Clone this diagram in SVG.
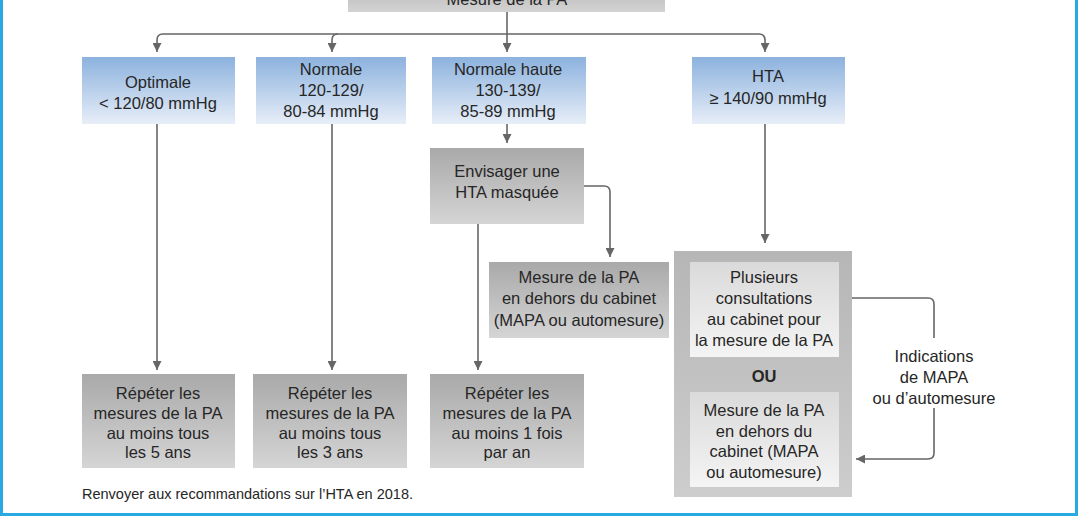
<svg xmlns="http://www.w3.org/2000/svg" width="1078" height="516" viewBox="0 0 1078 516">
<defs>
<linearGradient id="gBlue" x1="0" y1="0" x2="0" y2="1"><stop offset="0" stop-color="#8cb2de"/><stop offset="1" stop-color="#e7eef8"/></linearGradient>
<linearGradient id="gGray" x1="0" y1="0" x2="0" y2="1"><stop offset="0" stop-color="#a9a9a9"/><stop offset="1" stop-color="#d5d5d5"/></linearGradient>
<linearGradient id="gTop" x1="0" y1="0" x2="0" y2="1"><stop offset="0" stop-color="#bdbdbd"/><stop offset="1" stop-color="#d3d3d3"/></linearGradient>
<linearGradient id="gOuter" x1="0" y1="0" x2="0" y2="1"><stop offset="0" stop-color="#b6b6b6"/><stop offset="1" stop-color="#cdcdcd"/></linearGradient>
<linearGradient id="gInner" x1="0" y1="0" x2="0" y2="1"><stop offset="0" stop-color="#dadada"/><stop offset="1" stop-color="#f4f4f4"/></linearGradient>
<marker id="arr" markerUnits="userSpaceOnUse" markerWidth="9" markerHeight="9" refX="8" refY="4" orient="auto" viewBox="0 0 8 8"><path d="M0,0 L8,4 L0,8 z" fill="#666"/></marker>
</defs>
<style>
text{font-family:"Liberation Sans",Arial,sans-serif;font-size:16.5px;fill:#262626;text-anchor:middle}
.foot{font-size:14.5px;text-anchor:start}
.b{font-weight:bold}
.c{fill:none;stroke:#666;stroke-width:1.6}
.ca{fill:none;stroke:#666;stroke-width:1.6;marker-end:url(#arr)}
</style>
<rect x="1.5" y="-10" width="1075" height="524.5" fill="#fff" stroke="#29a9e1" stroke-width="3"/>

<g id="connectors">
<path class="c" d="M507,12 V34"/>
<path class="ca" d="M507,34 H163 Q157,34 157,40 V52"/>
<path class="ca" d="M338,34 Q332,34 332,40 V52"/>
<path class="ca" d="M507,34 V52"/>
<path class="ca" d="M507,34 H759 Q765,34 765,40 V52"/>
<path class="ca" d="M507,124 V143"/>
<path class="ca" d="M584,186 H604 Q610,186 610,192 V257"/>
<path class="ca" d="M765,124 V243"/>
<path class="ca" d="M157,124 V370"/>
<path class="ca" d="M332,124 V370"/>
<path class="ca" d="M478,224 V370"/>
<path class="c" d="M838,298 H928 Q934,298 934,304 V338"/>
<path class="ca" d="M934,408 V453 Q934,459 928,459 H856"/>
</g>

<g id="n-top"><rect x="348" y="-10" width="317" height="22" fill="url(#gTop)"/><text x="507" y="5">Mesure de la PA</text></g>

<g id="n-optimale"><rect x="82" y="57" width="153" height="67" fill="url(#gBlue)"/><text x="158" y="88">Optimale</text><text x="158" y="109">&lt; 120/80 mmHg</text></g>
<g id="n-normale"><rect x="256" y="57" width="150" height="67" fill="url(#gBlue)"/><text x="331" y="75">Normale</text><text x="331" y="96">120-129/</text><text x="331" y="117">80-84 mmHg</text></g>
<g id="n-normalehaute"><rect x="432" y="57" width="154" height="67" fill="url(#gBlue)"/><text x="508" y="75">Normale haute</text><text x="508" y="96">130-139/</text><text x="508" y="117">85-89 mmHg</text></g>
<g id="n-hta"><rect x="692" y="57" width="153" height="67" fill="url(#gBlue)"/><text x="768" y="82">HTA</text><text x="768" y="104">≥ 140/90 mmHg</text></g>

<g id="n-envisager"><rect x="430" y="148" width="154" height="76" fill="url(#gGray)"/><text x="507" y="177">Envisager une</text><text x="507" y="198">HTA masquée</text></g>
<g id="n-mesure-dehors"><rect x="489" y="262" width="180" height="76" fill="url(#gGray)"/><text x="579" y="283">Mesure de la PA</text><text x="579" y="304">en dehors du cabinet</text><text x="579" y="326">(MAPA ou automesure)</text></g>

<g id="n-hta-suivi">
<rect x="674" y="251" width="178" height="246" fill="url(#gOuter)"/>
<rect x="690" y="262" width="149" height="95" fill="url(#gInner)"/>
<text x="764" y="283">Plusieurs</text><text x="764" y="304">consultations</text><text x="764" y="325">au cabinet pour</text><text x="764" y="346">la mesure de la PA</text>
<text class="b" x="764" y="382">OU</text>
<rect x="690" y="392" width="149" height="95" fill="url(#gInner)"/>
<text x="764" y="416">Mesure de la PA</text><text x="764" y="437">en dehors du</text><text x="764" y="457">cabinet (MAPA</text><text x="764" y="478">ou automesure)</text>
</g>

<g id="n-indications"><text x="934" y="362">Indications</text><text x="934" y="383">de MAPA</text><text x="934" y="404">ou d’automesure</text></g>

<g id="n-rep5"><rect x="82" y="374" width="153" height="94" fill="url(#gGray)"/><text x="158" y="399">Répéter les</text><text x="158" y="419">mesures de la PA</text><text x="158" y="439">au moins tous</text><text x="158" y="458">les 5 ans</text></g>
<g id="n-rep3"><rect x="253" y="374" width="154" height="94" fill="url(#gGray)"/><text x="330" y="399">Répéter les</text><text x="330" y="419">mesures de la PA</text><text x="330" y="439">au moins tous</text><text x="330" y="458">les 3 ans</text></g>
<g id="n-rep1"><rect x="430" y="374" width="154" height="94" fill="url(#gGray)"/><text x="507" y="399">Répéter les</text><text x="507" y="419">mesures de la PA</text><text x="507" y="439">au moins 1 fois</text><text x="507" y="458">par an</text></g>

<text class="foot" x="82" y="499">Renvoyer aux recommandations sur l’HTA en 2018.</text>
</svg>
